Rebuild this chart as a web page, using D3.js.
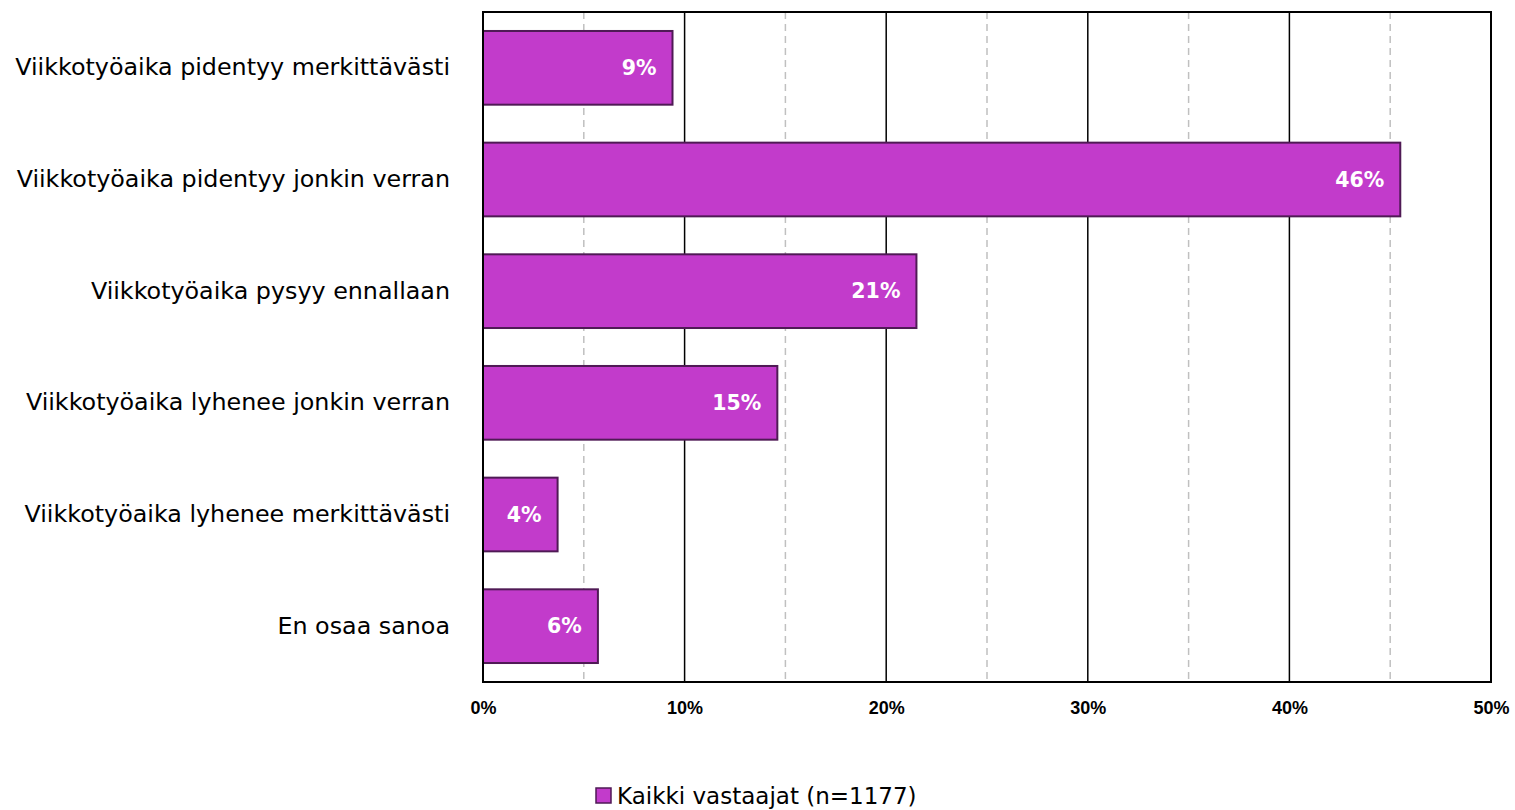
<!DOCTYPE html>
<html>
<head>
<meta charset="utf-8">
<script src="https://cdn.jsdelivr.net/npm/d3@7"></script>
<style>
  body { margin: 0; background: #fff; }
  svg { display: block; }
</style>
</head>
<body>
<svg id="chart" width="1515" height="810"></svg>
<script>
// data
var categories = [
  "Viikkotyöaika pidentyy merkittävästi",
  "Viikkotyöaika pidentyy jonkin verran",
  "Viikkotyöaika pysyy ennallaan",
  "Viikkotyöaika lyhenee jonkin verran",
  "Viikkotyöaika lyhenee merkittävästi",
  "En osaa sanoa"
];
var values = [9.4, 45.5, 21.5, 14.6, 3.7, 5.7];
var valueLabels = ["9%", "46%", "21%", "15%", "4%", "6%"];
var ticks = [0, 10, 20, 30, 40, 50];
var minorTicks = [5, 15, 25, 35, 45];
var seriesName = "Kaikki vastaajat (n=1177)";

var svg = d3.select("#chart");
var plotL = 483, plotR = 1491, plotT = 12, plotB = 682;
var fill = "#C23BCB", edge = "#4F1A55";
var labelFont = "'DejaVu Sans', sans-serif";

var x = d3.scaleLinear().domain([0, 50]).range([plotL, plotR]);
var y = d3.scaleBand().domain(categories).range([plotT, plotB]).paddingInner(0.34).paddingOuter(0.17);

// dashed minor grid
svg.append("g").selectAll("line").data(minorTicks).join("line")
  .attr("x1", d => x(d)).attr("x2", d => x(d))
  .attr("y1", plotT).attr("y2", plotB)
  .style("stroke", "#c0c0c0").style("stroke-width", 1.5).style("stroke-dasharray", "7,5");

// solid major grid
svg.append("g").selectAll("line").data(ticks.slice(1, -1)).join("line")
  .attr("x1", d => x(d)).attr("x2", d => x(d))
  .attr("y1", plotT).attr("y2", plotB)
  .style("stroke", "#000").style("stroke-width", 1.5);

// bars
svg.append("g").selectAll("rect").data(values).join("rect")
  .attr("x", x(0))
  .attr("y", (d, i) => y(categories[i]))
  .attr("width", d => x(d) - x(0))
  .attr("height", y.bandwidth())
  .style("fill", fill).style("stroke", edge).style("stroke-width", 2);

// value labels inside bars
svg.append("g").selectAll("text").data(values).join("text")
  .attr("x", d => x(d) - 16)
  .attr("y", (d, i) => y(categories[i]) + y.bandwidth() / 2)
  .attr("text-anchor", "end").attr("dominant-baseline", "central")
  .text((d, i) => valueLabels[i])
  .style("font-family", labelFont).style("font-weight", "bold")
  .style("font-size", "20.5px").style("fill", "#fff");

// frame
svg.append("rect")
  .attr("x", plotL).attr("y", plotT)
  .attr("width", plotR - plotL).attr("height", plotB - plotT)
  .style("fill", "none").style("stroke", "#000").style("stroke-width", 2);

// x axis tick labels
var xAxis = d3.axisBottom(x).tickValues(ticks).tickSize(0).tickPadding(0).tickFormat(d => d + "%");
var gx = svg.append("g").attr("transform", "translate(0," + (plotB + 19) + ")").call(xAxis);
gx.select(".domain").remove();
gx.selectAll("text")
  .style("font-family", "'Liberation Sans', Arial, sans-serif").style("font-weight", "bold")
  .style("font-size", "18px").style("fill", "#000");

// category labels
var yAxis = d3.axisLeft(y).tickSize(0).tickPadding(0);
var gy = svg.append("g").attr("transform", "translate(450,0)").call(yAxis);
gy.select(".domain").remove();
gy.selectAll("text")
  .style("font-family", labelFont).style("font-size", "23.8px").style("fill", "#000");

// legend
var lg = svg.append("g").attr("transform", "translate(596,788)");
lg.append("rect").attr("width", 15).attr("height", 15)
  .style("fill", fill).style("stroke", edge).style("stroke-width", 1.5);
lg.append("text").attr("x", 21).attr("y", 8).attr("dominant-baseline", "central")
  .text(seriesName)
  .style("font-family", labelFont).style("font-size", "23px").style("fill", "#000");
</script>
</body>
</html>
